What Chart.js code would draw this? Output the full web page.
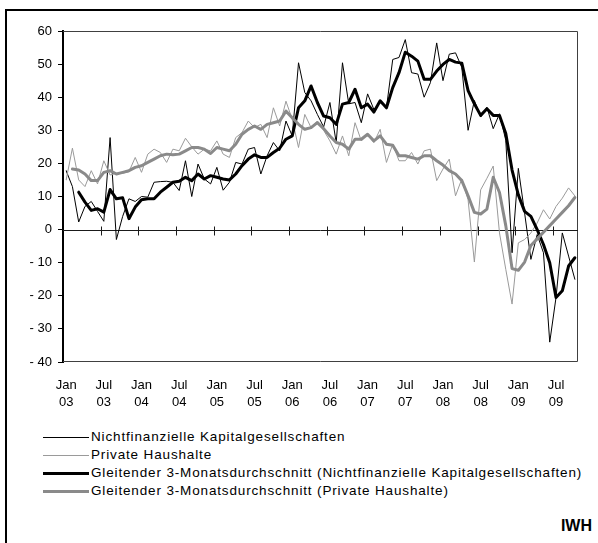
<!DOCTYPE html>
<html lang="de">
<head>
<meta charset="utf-8">
<script src="https://cdn.jsdelivr.net/npm/chart.js@4.4.1/dist/chart.umd.min.js"></script>
<style>
  html, body { margin: 0; padding: 0; background: #fff; }
  body { width: 598px; height: 543px; overflow: hidden; position: relative;
         font-family: 'Liberation Sans', Arial, sans-serif; color: #000; }
  .frame { position: absolute; left: 5px; top: 9px; width: 640px; height: 600px;
           border: 2px solid #000; box-sizing: border-box; }
  #chart { position: absolute; left: 0; top: 0; }
  .legend { position: absolute; left: 43px; top: 428px; font-size: 13.5px; letter-spacing: 0.85px; }
  .legend .row { height: 18px; line-height: 18px; display: flex; align-items: center; white-space: nowrap; }
  .legend .swatch { width: 46px; margin-right: 2px; }
  .iwh { position: absolute; right: 6px; top: 517px; font-size: 16px; font-weight: bold; }
</style>
</head>
<body>
<div class="frame"></div>
<canvas id="chart" width="598" height="415"></canvas>

<div class="legend">
  <div class="row"><span class="swatch" style="border-top:1px solid #000"></span>Nichtfinanzielle Kapitalgesellschaften</div>
  <div class="row"><span class="swatch" style="border-top:1px solid #9a9a9a"></span>Private Haushalte</div>
  <div class="row"><span class="swatch" style="border-top:3px solid #000"></span>Gleitender 3-Monatsdurchschnitt (Nichtfinanzielle Kapitalgesellschaften)</div>
  <div class="row"><span class="swatch" style="border-top:3px solid #8a8a8a"></span>Gleitender 3-Monatsdurchschnitt (Private Haushalte)</div>
</div>
<div class="iwh">IWH</div>

<script>
// monthly values, Jan 2003 - Oct 2009
const monthNames = ['Jan', 'Feb', 'Mrz', 'Apr', 'Mai', 'Jun', 'Jul', 'Aug', 'Sep', 'Okt', 'Nov', 'Dez'];
const years = ['03', '04', '05', '06', '07', '08', '09'];

const nk = [17.8, 13, 2.3, 7, 8.5, 5.5, 2.5, 27.8, -3, 4,
  9.3, 8.5, 10, 9.8, 14.3, 14.5, 14.6, 14.3, 11.8, 20.8,
  10, 19.8, 15.3, 13.8, 18.8, 11.9, 14.3, 20.3, 19.8, 24.3,
  24.8, 16.8, 22.3, 26.3, 23.8, 32.8, 28.3, 50.4, 41.4, 38.9,
  34.8, 31, 38.4, 26.3, 50.4, 38, 38.4, 32.3, 41, 36.3,
  38.4, 36.8, 51.4, 52, 57.4, 47.4, 47, 40, 44.4, 56.4,
  45, 53, 53.4, 49, 30, 39, 34, 37, 30.5, 35,
  27, -7, 18.5, 5, -9, -1.5, -7, -34, -20.5, -1,
  -8, -15];

const ph = [15, 24.6, 15, 13, 17.8, 13.8, 20.8, 16.5, 17, 17,
  17.5, 21.8, 17.3, 22.8, 24.3, 23.3, 20.3, 24.3, 23.8, 27.6,
  25, 22.8, 24.3, 23.8, 26.8, 22.8, 21.8, 27.8, 29.3, 32.8,
  30.8, 31.8, 27.8, 36.8, 31.3, 38.8, 33.3, 24.8, 34.8, 30.8,
  32.8, 30, 26.8, 22.8, 28.3, 22.3, 32.3, 26.8, 28.8, 26.3,
  30.3, 20.3, 25.8, 20.8, 20.8, 23.3, 19.8, 23.8, 24.3, 14.8,
  18.3, 21.3, 10.2, 15.3, 9, -9.8, 12, 15.5, 19.2, -1,
  -12, -22.5, -4, -3, -1, 2, 6, 3.2, 7, 9.5,
  12.6, 10.2];

const nkAvg = [null, null, 11.3, 8.3, 5.8, 6.3, 5.3, 12.1, 9.3, 9.6,
  3.3, 6.8, 9, 9.3, 9.3, 11.3, 12.8, 14.3, 14.6, 15.8,
  14.8, 16.8, 15.3, 16.3, 15.8, 15.3, 15, 16.8, 19.3, 21.3,
  22.6, 21.8, 21.8, 23.3, 24.6, 27.3, 28.3, 36.8, 38.9, 43.4,
  38.4, 34.3, 33.8, 31.8, 37.9, 38.4, 42.4, 36.8, 37.9, 35.5,
  38.9, 36.8, 42.9, 47.4, 53.6, 52.4, 50.9, 45.4, 45.4, 47.9,
  49.9, 51.4, 50.6, 50.3, 42, 38, 34.5, 36.5, 34.5, 34.5,
  29, 18, 10.5, 5.5, 4, 0, -4.5, -10, -20.5, -18.5,
  -11, -8.5];

const phAvg = [null, 18.3, 18, 16.8, 14.8, 14.8, 17.3, 17.8, 16.8, 17.3,
  17.8, 18.8, 19.3, 20.3, 21.3, 22.3, 22.8, 22.6, 22.8, 23.8,
  24.8, 24.8, 24.3, 23, 24.8, 24.3, 23.8, 25.8, 28.8, 30.3,
  31.3, 30.3, 31.8, 32.3, 32.8, 35.8, 33.8, 31.8, 30.3, 30.8,
  32.3, 30.5, 28.3, 26.3, 25.8, 24.3, 27.3, 27.3, 28.8, 26.8,
  28.3, 25.8, 25.5, 22.3, 22.3, 21.8, 21.3, 22.3, 22.3, 20.8,
  19.5, 17.8, 16.8, 14.8, 10.2, 5.2, 4.7, 6.2, 15.8, 11.2,
  1.2, -11.8, -12.3, -9.8, -4.8, -2.8, -0.8, 1.2, 3.2, 5.2,
  7.2, 9.7];

const categories = [];
years.forEach(y => monthNames.forEach(m => categories.push(m + ' ' + y)));
categories.length = nk.length;

// plot frame, zero line with tick marks between the half-years
const framePlugin = {
  id: 'frame',
  beforeDatasetsDraw(chart) {
    const { ctx, chartArea: a, scales } = chart;
    ctx.save();
    ctx.strokeStyle = '#404040';
    ctx.lineWidth = 1;
    ctx.beginPath();
    ctx.moveTo(a.left, a.top + 0.5);
    ctx.lineTo(a.right - 0.5, a.top + 0.5);
    ctx.lineTo(a.right - 0.5, a.bottom - 0.5);
    ctx.lineTo(a.left, a.bottom - 0.5);
    ctx.stroke();

    const y0 = Math.round(scales.y.getPixelForValue(0)) + 0.5;
    const half = (scales.x.getPixelForValue(1) - scales.x.getPixelForValue(0)) / 2;
    ctx.strokeStyle = '#1a1a1a';
    ctx.beginPath();
    ctx.moveTo(a.left, y0);
    ctx.lineTo(a.right, y0);
    for (let i = 6; i < categories.length; i += 6) {
      const x = Math.round(scales.x.getPixelForValue(i) - half) + 0.5;
      ctx.moveTo(x, y0 - 4);
      ctx.lineTo(x, y0 + 5);
    }
    ctx.stroke();
    ctx.restore();
  }
};

new Chart(document.getElementById('chart'), {
  type: 'line',
  data: {
    labels: categories,
    datasets: [
      { label: 'Gleitender 3-Monatsdurchschnitt (Private Haushalte)', data: phAvg,
        borderColor: '#8a8a8a', borderWidth: 3 },
      { label: 'Gleitender 3-Monatsdurchschnitt (Nichtfinanzielle Kapitalgesellschaften)', data: nkAvg,
        borderColor: '#000', borderWidth: 3 },
      { label: 'Private Haushalte', data: ph, borderColor: '#9a9a9a', borderWidth: 1 },
      { label: 'Nichtfinanzielle Kapitalgesellschaften', data: nk, borderColor: '#000', borderWidth: 1 }
    ]
  },
  options: {
    responsive: false,
    animation: false,
    devicePixelRatio: 1,
    layout: { padding: { top: 31, right: 20, left: 0, bottom: 0 } },
    elements: {
      point: { radius: 0, hoverRadius: 0 },
      line: { tension: 0, borderJoinStyle: 'round', borderCapStyle: 'round', fill: false }
    },
    plugins: { legend: { display: false }, tooltip: { enabled: false } },
    scales: {
      x: {
        offset: true,
        grid: { display: false, drawTicks: false },
        border: { display: false },
        afterFit(s) { s.height = 53; },
        ticks: {
          autoSkip: false,
          maxRotation: 0,
          minRotation: 0,
          padding: 15,
          color: '#000',
          font: { family: "'Liberation Sans', Arial, sans-serif", size: 13, lineHeight: 1.3 },
          callback(v, i) {
            return i % 6 === 0 ? categories[i].split(' ') : '';
          }
        }
      },
      y: {
        min: -40,
        max: 60,
        afterFit(s) { s.width = 63; },
        grid: { drawOnChartArea: false, tickLength: 5, color: '#000' },
        border: { display: true, color: '#000', width: 2 },
        ticks: {
          stepSize: 10,
          padding: 6,
          color: '#000',
          font: { family: "'Liberation Sans', Arial, sans-serif", size: 13 },
          callback(v) { return v < 0 ? '- ' + Math.abs(v) : String(v); }
        }
      }
    }
  },
  plugins: [framePlugin]
});
</script>
</body>
</html>
